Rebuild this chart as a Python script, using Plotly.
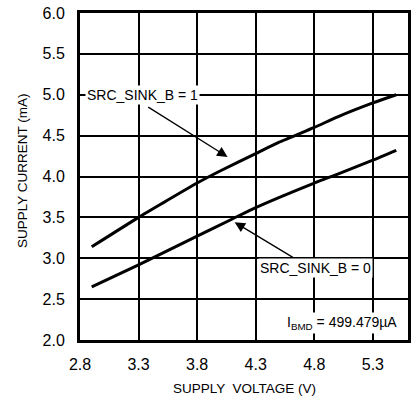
import plotly.graph_objects as go

v_hi = [2.9, 3.3, 3.5, 3.8, 4.0, 4.3, 4.5, 4.8, 5.0, 5.3, 5.5]
i_hi = [3.14, 3.50, 3.67, 3.92, 4.07, 4.28, 4.42, 4.60, 4.73, 4.90, 5.00]
v_lo = [2.9, 3.3, 3.8, 4.1, 4.3, 4.8, 5.0, 5.3, 5.5]
i_lo = [2.65, 2.92, 3.27, 3.48, 3.62, 3.92, 4.03, 4.20, 4.32]
x_ticks = [2.8, 3.3, 3.8, 4.3, 4.8, 5.3]
y_ticks = [2.0, 2.5, 3.0, 3.5, 4.0, 4.5, 5.0, 5.5, 6.0]

FONT = "Liberation Sans Narrow, Arial Narrow, Liberation Sans, sans-serif"
FS = 14
TFS = 16

fig = go.Figure()
fig.add_trace(go.Scatter(x=v_hi, y=i_hi, mode="lines", line=dict(color="black", width=3, shape="spline", smoothing=0.6), hoverinfo="skip"))
fig.add_trace(go.Scatter(x=v_lo, y=i_lo, mode="lines", line=dict(color="black", width=3, shape="spline", smoothing=0.6), hoverinfo="skip"))

fig.add_annotation(x=4.06, y=4.24, ax=3.37, ay=4.86, xref="x", yref="y", axref="x", ayref="y",
                   text="", showarrow=True, arrowhead=2, arrowsize=1.6, arrowwidth=1.3, arrowcolor="black")
fig.add_annotation(x=4.12, y=3.44, ax=4.63, ay=3.0, xref="x", yref="y", axref="x", ayref="y",
                   text="", showarrow=True, arrowhead=2, arrowsize=1.6, arrowwidth=1.3, arrowcolor="black")
fig.add_annotation(x=3.33, y=5.0, text="SRC_SINK_B = 1", showarrow=False, bgcolor="white",
                   font=dict(family=FONT, size=FS, color="black"), borderpad=1)
fig.add_annotation(x=4.81, y=2.88, text="SRC_SINK_B = 0", showarrow=False, bgcolor="white",
                   font=dict(family=FONT, size=FS, color="black"), borderpad=1)
fig.add_annotation(x=5.04, y=2.21, text="I<sub>BMD</sub> = 499.479µA", showarrow=False, bgcolor="white",
                   font=dict(family=FONT, size=FS, color="black"), borderpad=1)

# axis titles
fig.add_annotation(xref="paper", yref="paper", x=(244 - 80) / 328, y=(340 - 388) / 327,
                   xanchor="center", yanchor="middle",
                   text="SUPPLY  VOLTAGE (V)", showarrow=False,
                   font=dict(family=FONT, size=13.5, color="black"))
fig.add_annotation(xref="paper", yref="paper", x=(23 - 80) / 328, y=(340 - 171) / 327, textangle=-90,
                   xanchor="center", yanchor="middle",
                   text="SUPPLY CURRENT (mA)", showarrow=False,
                   font=dict(family=FONT, size=13.5, color="black"))

axis_common = dict(showgrid=True, gridcolor="black", gridwidth=1.5, showline=True, linecolor="black",
                   linewidth=3, mirror=True, ticks="", zeroline=False, automargin=False,
                   tickfont=dict(family=FONT, size=TFS, color="black"))
fig.update_xaxes(range=[2.8, 5.6], tickvals=x_ticks, ticktext=[f"{t:.1f}" for t in x_ticks],
                 ticklabelstandoff=8, **axis_common)
fig.update_yaxes(range=[2.0, 6.0], tickvals=y_ticks, ticktext=[f"{t:.1f}" for t in y_ticks],
                 ticklabelstandoff=9, **axis_common)
fig.update_layout(width=414, height=402, margin=dict(l=80, r=6, t=13, b=62),
                  paper_bgcolor="white", plot_bgcolor="white", showlegend=False)
fig.write_html("out.html", config={"displayModeBar": False},
               post_script="document.body.style.margin='0';document.body.style.overflow='hidden';")
